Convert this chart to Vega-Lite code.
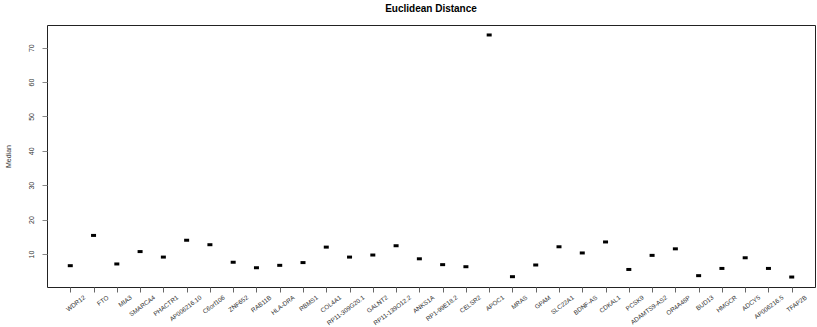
{
  "$schema": "https://vega.github.io/schema/vega-lite/v6.json",
  "width": 768,
  "height": 262,
  "autosize": {"type": "none"},
  "padding": {"left": 47, "top": 25, "right": 2, "bottom": 40},
  "background": "white",
  "title": {
    "text": "Euclidean Distance",
    "font": "Liberation Sans",
    "fontSize": 10,
    "fontWeight": "bold",
    "color": "#000",
    "anchor": "middle",
    "offset": 11
  },
  "config": {
    "view": {"stroke": "#222", "strokeWidth": 1},
    "axis": {"labelFont": "Liberation Sans", "titleFont": "Liberation Sans", "grid": false, "domain": false}
  },
  "data": {
    "values": [
      {"gene": "WDR12", "median": 6.6},
      {"gene": "FTO", "median": 15.4},
      {"gene": "MIA3", "median": 7.1},
      {"gene": "SMARCA4", "median": 10.7},
      {"gene": "PHACTR1", "median": 9.1},
      {"gene": "AP006216.10", "median": 14.0},
      {"gene": "C6orf106", "median": 12.7},
      {"gene": "ZNF652", "median": 7.6},
      {"gene": "RAB11B", "median": 6.0},
      {"gene": "HLA-DRA", "median": 6.7},
      {"gene": "RBMS1", "median": 7.5},
      {"gene": "COL4A1", "median": 12.0},
      {"gene": "RP11-309G20.1", "median": 9.1},
      {"gene": "GALNT2", "median": 9.7},
      {"gene": "RP11-139O12.2", "median": 12.4},
      {"gene": "ANKS1A", "median": 8.6},
      {"gene": "RP1-99E18.2", "median": 6.9},
      {"gene": "CELSR2", "median": 6.3},
      {"gene": "APOC1", "median": 73.7},
      {"gene": "MRAS", "median": 3.4},
      {"gene": "GPAM", "median": 6.8},
      {"gene": "SLC22A1", "median": 12.1},
      {"gene": "BDNF-AS", "median": 10.3},
      {"gene": "CDKAL1", "median": 13.5},
      {"gene": "PCSK9", "median": 5.5},
      {"gene": "ADAMTS9-AS2", "median": 9.6},
      {"gene": "OR4A48P", "median": 11.5},
      {"gene": "BUD13", "median": 3.7},
      {"gene": "HMGCR", "median": 5.8},
      {"gene": "ADCY5", "median": 8.9},
      {"gene": "AP006216.5", "median": 5.8},
      {"gene": "TFAP2B", "median": 3.3}
    ]
  },
  "mark": {
    "type": "point",
    "shape": "M-1,-0.6H1V0.6H-1Z",
    "filled": true,
    "color": "#000",
    "opacity": 1,
    "size": 25
  },
  "encoding": {
    "x": {
      "field": "gene",
      "type": "nominal",
      "sort": null,
      "scale": {"type": "point", "padding": 1.25},
      "axis": {
        "title": null,
        "labelAngle": -37,
        "labelAlign": "right",
        "labelBaseline": "top",
        "labelFontSize": 6.3,
        "labelColor": "#333",
        "labelPadding": 2,
        "labelOffset": 12,
        "tickSize": 5,
        "tickColor": "#666",
        "labelOverlap": false
      }
    },
    "y": {
      "field": "median",
      "type": "quantitative",
      "scale": {"domain": [0.4, 76.6], "nice": false, "zero": false},
      "axis": {
        "title": "Median",
        "titleFontSize": 7,
        "titleFontWeight": "normal",
        "titleColor": "#333",
        "titlePadding": 16,
        "values": [10, 20, 30, 40, 50, 60, 70],
        "labelAngle": 270,
        "labelAlign": "center",
        "labelBaseline": "bottom",
        "labelFontSize": 7,
        "labelColor": "#333",
        "labelPadding": 8,
        "tickSize": 5,
        "tickColor": "#888"
      }
    }
  }
}
